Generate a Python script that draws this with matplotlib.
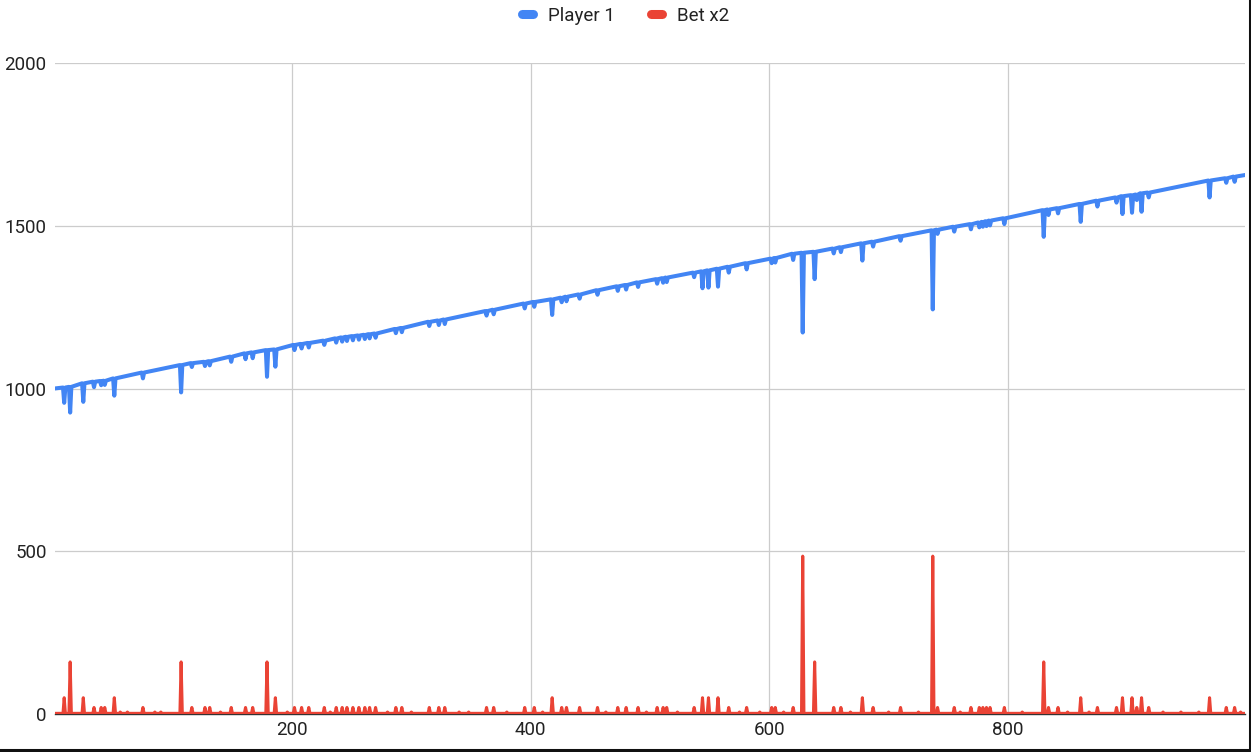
import matplotlib
matplotlib.use("Agg")
import matplotlib.pyplot as plt
from matplotlib.lines import Line2D

plt.rcParams['font.family'] = ['Roboto', 'DejaVu Sans']

# ---------------- data ----------------
round_first, round_last = 1, 999
balance_first, balance_last = 1000, 1656

# balance dips: round, balance just before/after, balance at the dip
dip_round = [9, 14, 25, 34, 40, 43, 51, 75, 107, 116, 127, 131, 149, 161, 167, 179, 186,
             202, 208, 214, 227, 237, 242, 246, 251, 256, 261, 265, 270, 287, 292, 315, 323,
             328, 363, 369, 395, 403, 418, 426, 430, 441, 456, 473, 480, 490, 506, 511, 514,
             537, 544, 549, 557, 566, 581, 602, 605, 620, 628, 638, 654, 660, 678, 687, 710,
             737, 741, 755, 769, 776, 779, 782, 785, 797, 830, 834, 842, 861, 875, 891, 896,
             904, 908, 912, 918, 969, 983, 990]
dip_level = [1003, 1005, 1016, 1021, 1023, 1024, 1031, 1049, 1072, 1078, 1082, 1084, 1098, 1108,
             1111, 1118, 1120, 1134, 1137, 1140, 1147, 1154, 1157, 1159, 1161, 1163, 1165, 1167,
             1169, 1183, 1186, 1205, 1209, 1212, 1238, 1242, 1261, 1266, 1274, 1279, 1282, 1289,
             1302, 1314, 1318, 1326, 1336, 1339, 1341, 1356, 1360, 1363, 1368, 1374, 1385, 1399,
             1401, 1414, 1417, 1420, 1430, 1434, 1446, 1451, 1468, 1486, 1488, 1497, 1505, 1510,
             1512, 1514, 1516, 1523, 1548, 1550, 1554, 1567, 1577, 1587, 1591, 1594, 1596, 1600,
             1602, 1639, 1646, 1651]
dip_low = [956, 926, 959, 1004, 1010, 1011, 978, 1031, 988, 1066, 1069, 1071, 1082, 1090, 1093,
           1036, 1067, 1118, 1123, 1126, 1134, 1141, 1144, 1146, 1148, 1150, 1152, 1154, 1156,
           1170, 1173, 1192, 1195, 1198, 1224, 1228, 1246, 1251, 1226, 1265, 1268, 1276, 1288,
           1300, 1304, 1312, 1322, 1325, 1327, 1342, 1308, 1310, 1313, 1356, 1366, 1385, 1387,
           1395, 1172, 1336, 1415, 1419, 1393, 1436, 1454, 1243, 1475, 1482, 1489, 1495, 1497,
           1499, 1501, 1505, 1466, 1533, 1538, 1512, 1559, 1571, 1536, 1540, 1579, 1543, 1587,
           1587, 1632, 1635]

# Bet x2 spikes: round and value
bet_floor = 2
bet_round = [9, 14, 25, 34, 40, 43, 51, 56, 62, 75, 85, 90, 107, 116, 127, 131, 140, 149, 161,
             167, 179, 186, 196, 202, 208, 214, 227, 232, 237, 242, 246, 251, 256, 261, 265, 270,
             280, 287, 292, 300, 315, 323, 328, 340, 348, 363, 369, 380, 395, 403, 410, 418, 426,
             430, 441, 456, 463, 473, 480, 490, 497, 506, 511, 514, 523, 537, 544, 549, 557, 566,
             575, 581, 592, 602, 605, 612, 620, 628, 638, 654, 660, 668, 678, 687, 700, 710, 725,
             737, 741, 755, 760, 769, 776, 779, 782, 785, 797, 812, 830, 834, 842, 850, 861, 868,
             875, 891, 896, 904, 908, 912, 918, 930, 945, 960, 969, 983, 990, 995]
bet_value = [50, 160, 50, 20, 20, 20, 50, 6, 6, 20, 6, 6, 160, 20, 20, 20, 6, 20, 20,
             20, 160, 50, 6, 20, 20, 20, 20, 6, 20, 20, 20, 20, 20, 20, 20, 20,
             6, 20, 20, 6, 20, 20, 20, 6, 6, 20, 20, 6, 20, 20, 6, 50, 20,
             20, 20, 20, 6, 20, 20, 20, 6, 20, 20, 20, 6, 20, 50, 50, 50, 20,
             6, 20, 6, 20, 20, 6, 20, 485, 160, 20, 20, 6, 50, 20, 6, 20, 6,
             485, 20, 20, 6, 20, 20, 20, 20, 20, 20, 6, 160, 20, 20, 6, 50, 6,
             20, 20, 50, 50, 20, 50, 20, 6, 6, 6, 50, 20, 20, 6]

x_ticks = [200, 400, 600, 800]
y_ticks = [0, 500, 1000, 1500, 2000]

# ---------------- build polylines ----------------
bx, by = [round_first], [balance_first]
for r, lv, lo in zip(dip_round, dip_level, dip_low):
    bx += [r - 1, r, r + 1]
    by += [lv, lo, lv]
bx.append(round_last)
by.append(balance_last)

rx, ry = [round_first], [bet_floor]
for r, v in sorted(zip(bet_round, bet_value)):
    rx += [r - 1, r, r + 1]
    ry += [bet_floor, v, bet_floor]
rx.append(round_last)
ry.append(bet_floor)

BLUE = '#4285F4'
RED = '#EA4335'

fig = plt.figure(figsize=(12.51, 7.52), dpi=100)
ax = fig.add_axes([55 / 1251, 1 - 714 / 752, 1190 / 1251, (714 - 63) / 752])

ax.plot(bx, by, color=BLUE, lw=2.9, solid_joinstyle='round', zorder=3)
ax.plot(rx, ry, color=RED, lw=2.2, solid_joinstyle='round', zorder=3)

ax.set_xlim(1.3, 998.7)
ax.set_ylim(0, 2000)
ax.set_xticks(x_ticks)
ax.set_yticks(y_ticks)
ax.tick_params(length=0, labelsize=13.5, colors='#222222')
ax.tick_params(axis='y', pad=6)
ax.tick_params(axis='x', pad=5)
ax.grid(True, color='#cccccc', lw=0.9, zorder=0)
ax.set_axisbelow(True)
for s in ['top', 'right', 'left']:
    ax.spines[s].set_visible(False)
ax.spines['bottom'].set_color('#333333')
ax.spines['bottom'].set_linewidth(1.0)

handles = [Line2D([], [], color=BLUE, lw=6.5, solid_capstyle='round'),
           Line2D([], [], color=RED, lw=6.5, solid_capstyle='round')]
fig.legend(handles, ['Player 1', 'Bet x2'], loc='center', bbox_to_anchor=(0.5, 1 - 16 / 752),
           ncol=2, frameon=False, fontsize=13.5, handlelength=0.6, handletextpad=0.8,
           columnspacing=1.9, labelcolor='#222222')

# screenshot edge shadow (right and bottom)
fig.add_artist(Line2D([1 - 1.5 / 1251, 1 - 1.5 / 1251], [0, 1], transform=fig.transFigure,
                      color='#111111', lw=2.2))
fig.add_artist(Line2D([0, 1], [2 / 752, 2 / 752], transform=fig.transFigure,
                      color='#111111', lw=2.2))

fig.savefig('out.png', dpi=100, facecolor='white')
